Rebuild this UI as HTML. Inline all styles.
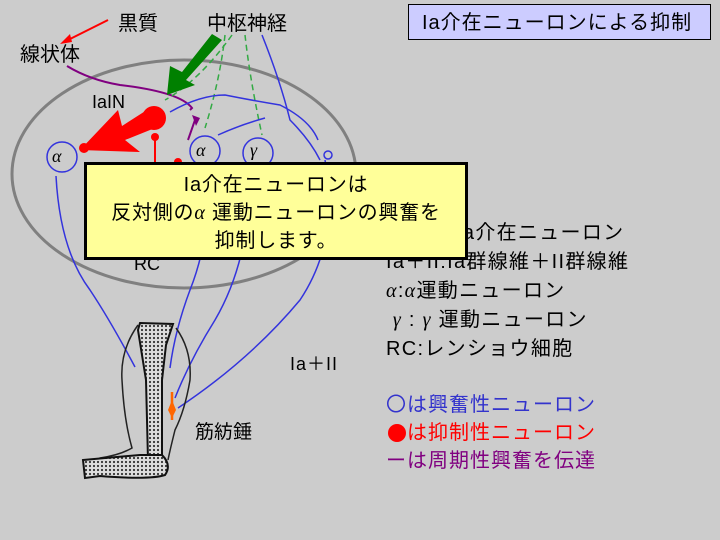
<!DOCTYPE html>
<html><head><meta charset="utf-8"><style>
body{margin:0;width:720px;height:540px;background:#cccccc;overflow:hidden;position:relative;font-family:"Liberation Sans","Noto Sans CJK JP",sans-serif}
.t{position:absolute;white-space:nowrap;color:#000}
.g{font-family:"Liberation Serif",serif;font-style:italic}
</style></head><body>
<svg width="720" height="540" style="position:absolute;left:0;top:0">
<defs><pattern id="dots" width="4" height="4" patternUnits="userSpaceOnUse"><rect width="4" height="4" fill="#ddd"/><circle cx="2" cy="2" r="1.1" fill="#333"/></pattern></defs>
<ellipse cx="184" cy="174" rx="172" ry="114" fill="none" stroke="#808080" stroke-width="3"/>
<line x1="108" y1="20" x2="64" y2="42" stroke="red" stroke-width="2"/>
<polygon points="60,44 70,34 72,42" fill="red"/>
<path d="M67,66 Q90,80 120,85 Q180,92 192,108 L190,110" fill="none" stroke="#800080" stroke-width="2"/>
<line x1="188" y1="140" x2="195" y2="120" stroke="#800080" stroke-width="2"/>
<polygon points="192,115 200,118 196,126" fill="#800080"/>
<g stroke="#33aa44" stroke-width="1.5" stroke-dasharray="6,4" fill="none">
<path d="M225,35 Q220,80 205,128"/><path d="M245,35 Q250,80 262,135"/><path d="M232,35 Q200,80 165,100"/>
</g>
<g stroke="#3333dd" stroke-width="1.5" fill="none">
<path d="M262,35 Q280,80 290,120 Q310,140 320,160"/>
<path d="M170,112 Q200,95 225,95 Q250,100 280,105 Q310,120 318,140"/>
<path d="M218,135 Q240,125 265,118"/>
<path d="M56,176 Q60,250 90,290 Q110,320 135,367"/>
<path d="M210,170 Q210,240 190,290 Q175,330 170,368"/>
<path d="M250,175 Q250,260 215,320 Q190,360 175,398"/>
<path d="M325,160 Q340,240 300,300 Q250,360 178,408"/>
<circle cx="62" cy="157" r="15"/>
<circle cx="205" cy="151" r="15"/>
<circle cx="258" cy="153" r="15"/>
<circle cx="328" cy="155" r="4"/>
</g>
<polygon points="222,40 212,34 182,72 170,66 167,95 195,85 186,80" fill="#008000"/>
<circle cx="154" cy="118" r="12" fill="red"/>
<polygon points="150,108 160,126 125,140 140,152 80,150 118,110 122,126" fill="red"/>
<circle cx="84" cy="148" r="5" fill="red"/>
<circle cx="155" cy="137" r="4" fill="red"/>
<line x1="155" y1="137" x2="155" y2="165" stroke="red" stroke-width="2"/>
<circle cx="178" cy="162" r="4" fill="red"/>
<path d="M138,325 Q120,350 122,380 Q124,420 132,448 Q120,455 100,458 L90,465 Q88,470 92,474" fill="none" stroke="#222" stroke-width="1.5"/>
<path d="M176,328 Q192,350 190,380 Q185,410 175,430 Q170,450 168,460" fill="none" stroke="#222" stroke-width="1.5"/>
<path d="M140,323 L173,324 L166,345 L162,380 L162,458 L148,460 L146,380 L138,330 Z" fill="url(#dots)" stroke="#111" stroke-width="2"/>
<path d="M83,460 L140,455 L162,455 Q172,465 165,475 Q150,480 100,476 L85,478 Z" fill="url(#dots)" stroke="#111" stroke-width="2"/>
<line x1="172" y1="392" x2="172" y2="420" stroke="#ff6600" stroke-width="2.5"/>
<polygon points="168,410 172,400 176,410 172,418" fill="#ff6600"/>
<circle cx="397" cy="433" r="9" fill="red"/>
</svg>
<div class="t" style="left:118px;top:7px;font-size:20px">黒質</div>
<div class="t" style="left:20px;top:38px;font-size:20px">線状体</div>
<div class="t" style="left:207px;top:7px;font-size:20px">中枢神経</div>
<div class="t" style="left:92px;top:92px;font-size:18px">IaIN</div>
<div class="t g" style="left:52px;top:146px;font-size:18px">α</div>
<div class="t g" style="left:196px;top:140px;font-size:18px">α</div>
<div class="t g" style="left:250px;top:140px;font-size:18px">γ</div>
<div class="t" style="left:134px;top:254px;font-size:18px">RC</div>
<div class="t" style="left:290px;top:350px;font-size:18px;letter-spacing:1px">Ia＋II</div>
<div class="t" style="left:195px;top:417px;font-size:19px">筋紡錘</div>
<div style="position:absolute;left:408px;top:4px;width:303px;height:36px;background:#ccccff;border:1px solid #000;box-sizing:border-box;font-size:20px;letter-spacing:1px;line-height:36px;padding-left:13px;white-space:nowrap">Ia介在ニューロンによる抑制</div>
<div class="t" style="left:386px;top:219px;font-size:20px;line-height:29px;letter-spacing:1.3px">Ia IN：Ia介在ニューロン<br>Ia＋II:Ia群線維＋II群線維<br><span class="g">α</span>:<span class="g">α</span>運動ニューロン<br>&nbsp;<span class="g">γ</span> : <span class="g">γ</span> 運動ニューロン<br>RC:レンショウ細胞</div>
<div class="t" style="left:386px;top:391px;font-size:20px;line-height:28px;color:#3333cc;letter-spacing:1px">〇は興奮性ニューロン</div>
<div class="t" style="left:386px;top:419px;font-size:20px;line-height:28px;color:#ff0000;letter-spacing:1px"><span style="visibility:hidden">〇</span>は抑制性ニューロン</div>
<div class="t" style="left:386px;top:447px;font-size:20px;line-height:28px;color:#800080;letter-spacing:1px">ーは周期性興奮を伝達</div>
<div style="position:absolute;left:84px;top:162px;width:384px;height:98px;background:#ffff99;border:3px solid #000;box-sizing:border-box;font-size:20px;line-height:28px;text-align:center;padding-top:6px;white-space:nowrap;letter-spacing:0.8px">Ia介在ニューロンは<br>反対側の<span class="g">α</span> 運動ニューロンの興奮を<br>抑制します。</div>
</body></html>
